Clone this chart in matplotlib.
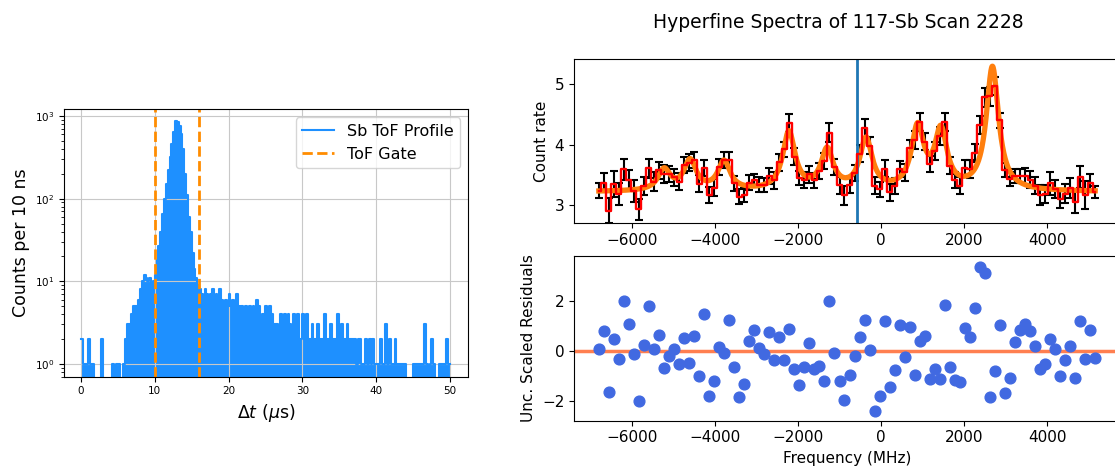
import numpy as np
import matplotlib
matplotlib.use('Agg')
import matplotlib.pyplot as plt

# ToF profile: max counts per 10 ns bin inside each 0.25 us slice, 0 - 50 us
tof_counts = [
    2, 1, 1, 1, 2, 1, 1, 0, 0, 0, 0, 2, 0, 0, 0, 0, 0, 1, 0, 1,
    1, 0, 0, 1, 2, 3, 3, 4, 5, 5, 5, 6, 8, 10, 12, 11, 10, 11, 9, 10,
    12, 18, 27, 40, 65, 100, 150, 220, 320, 460, 640, 870, 850, 760, 600, 400, 200, 110, 60, 40,
    22, 14, 11, 9, 8, 7, 6, 8, 7, 6, 7, 8, 6, 7, 6, 8, 6, 5, 6, 5,
    7, 5, 6, 5, 7, 5, 4, 5, 4, 5, 4, 5, 4, 5, 4, 6, 5, 3, 4, 3,
    5, 3, 5, 4, 3, 3, 3, 2, 4, 2, 4, 2, 4, 3, 2, 4, 2, 4, 2, 2,
    4, 2, 4, 2, 2, 3, 2, 2, 3, 2, 2, 2, 4, 2, 2, 3, 2, 2, 2, 4,
    2, 3, 2, 2, 3, 2, 2, 2, 2, 1, 2, 2, 1, 1, 2, 1, 2, 1, 2, 1,
    1, 1, 2, 1, 1, 3, 1, 2, 1, 1, 2, 1, 1, 1, 1, 1, 0, 0, 0, 0,
    1, 1, 1, 1, 1, 1, 3, 1, 0, 1, 2, 1, 0, 0, 1, 1, 1, 1, 2, 1,
]
tof_slice = 0.25  # us
gate = [10, 16]

# scan steps (MHz)
freq = [
    -6790, -6669, -6549, -6428, -6308, -6187, -6066, -5946, -5825, -5705,
    -5584, -5463, -5343, -5222, -5102, -4981, -4860, -4740, -4619, -4499,
    -4378, -4257, -4137, -4016, -3896, -3775, -3654, -3534, -3413, -3293,
    -3172, -3051, -2931, -2810, -2690, -2569, -2448, -2328, -2207, -2087,
    -1966, -1845, -1725, -1604, -1484, -1363, -1242, -1122, -1001, -881,
    -760, -639, -519, -398, -278, -157, -36, 84, 205, 325,
    446, 567, 687, 808, 928, 1049, 1170, 1290, 1411, 1531,
    1652, 1773, 1893, 2014, 2134, 2255, 2376, 2496, 2617, 2737,
    2858, 2979, 3099, 3220, 3340, 3461, 3582, 3702, 3823, 3943,
    4064, 4185, 4305, 4426, 4546, 4667, 4788, 4908, 5029, 5149,
]
rate = [
    3.24, 3.37, 2.91, 3.35, 3.18, 3.59, 3.42, 3.24, 2.93, 3.32,
    3.61, 3.39, 3.58, 3.52, 3.51, 3.46, 3.39, 3.66, 3.70, 3.74,
    3.35, 3.61, 3.17, 3.29, 3.63, 3.74, 3.75, 3.36, 3.14, 3.17,
    3.37, 3.41, 3.34, 3.33, 3.48, 3.41, 3.71, 3.92, 4.36, 3.80,
    3.45, 3.41, 3.51, 3.41, 3.56, 3.73, 4.20, 3.63, 3.33, 3.16,
    3.34, 3.53, 3.85, 4.28, 3.98, 3.32, 3.26, 3.60, 3.21, 3.32,
    3.60, 3.54, 3.94, 4.07, 4.37, 4.05, 3.68, 3.89, 4.14, 4.38,
    3.65, 3.41, 3.32, 3.61, 3.60, 3.86, 4.32, 4.78, 4.80, 4.97,
    4.40, 3.58, 3.43, 3.48, 3.48, 3.48, 3.42, 3.32, 3.17, 3.19,
    3.36, 3.27, 3.10, 3.19, 3.28, 3.05, 3.46, 3.17, 3.36, 3.21,
]
rate_err = [
    0.13, 0.16, 0.20, 0.22, 0.18, 0.17, 0.16, 0.18, 0.17, 0.15,
    0.16, 0.15, 0.14, 0.15, 0.13, 0.14, 0.14, 0.13, 0.14, 0.13,
    0.14, 0.13, 0.13, 0.14, 0.13, 0.13, 0.13, 0.12, 0.12, 0.12,
    0.12, 0.11, 0.12, 0.12, 0.13, 0.14, 0.14, 0.13, 0.15, 0.14,
    0.12, 0.13, 0.14, 0.12, 0.13, 0.13, 0.15, 0.14, 0.14, 0.15,
    0.14, 0.13, 0.14, 0.15, 0.14, 0.14, 0.13, 0.14, 0.14, 0.13,
    0.13, 0.14, 0.14, 0.15, 0.15, 0.14, 0.14, 0.15, 0.15, 0.15,
    0.14, 0.13, 0.14, 0.14, 0.15, 0.15, 0.15, 0.16, 0.16, 0.15,
    0.13, 0.12, 0.12, 0.11, 0.12, 0.13, 0.14, 0.14, 0.16, 0.15,
    0.19, 0.15, 0.15, 0.16, 0.17, 0.18, 0.18, 0.23, 0.15, 0.10,
]
# residuals scaled by uncertainty
resid = [
    0.07, 0.81, -1.63, 0.48, -0.33, 2.01, 1.08, -0.11, -1.99, 0.24,
    1.83, 0.09, 0.63, -0.68, -0.20, 0.07, -0.53, 0.53, -0.47, 0.60,
    -1.00, 1.51, -1.79, -1.20, 0.15, -0.07, 1.27, -0.65, -1.83, -1.31,
    0.41, 0.87, 0.11, -0.13, 0.75, -0.36, 0.55, -0.37, 0.91, -0.72,
    -1.35, -0.63, 0.31, -0.73, -0.59, -1.20, 2.00, -0.09, -1.20, -1.97,
    -0.95, -0.20, 0.55, 1.24, 0.04, -2.39, -1.81, 1.20, -1.43, -0.76,
    1.04, -0.23, 0.97, -0.97, 0.41, 0.60, -1.13, -0.73, -1.13, 1.87,
    -0.65, -1.16, -1.24, 0.95, 0.57, 1.73, 3.40, 3.15, -1.84, -0.79,
    1.07, -1.69, -1.07, 0.37, 0.87, 1.11, 0.80, 0.21, -0.72, -0.53,
    0.49, 0.08, -1.00, -0.36, 0.20, -1.07, 1.23, -0.32, 0.84, -0.29,
]

# fitted hyperfine components (Lorentzian)
peak_pos = [-5219, -4595, -3779, -2219, -1299, -363, 877, 1437, 2677]
peak_amp = [0.345, 0.49, 0.475, 0.96, 0.655, 0.835, 1.01, 0.95, 2.04]
peak_hwhm = 180
background = 3.22
centroid = -578


def hfs_model(f):
    f = np.asarray(f, dtype=float)[:, None]
    pos = np.array(peak_pos)
    amp = np.array(peak_amp)
    return background + np.sum(amp / (1 + ((f - pos) / peak_hwhm) ** 2), axis=1)


freq = np.array(freq)

fig = plt.figure(figsize=(11.15, 4.69), dpi=100)

# --- ToF profile ---
ax1 = fig.add_axes([0.0577, 0.1968, 0.3623, 0.5701])
counts = np.array(tof_counts, dtype=float)
edges = np.arange(len(counts) + 1) * tof_slice
shown = np.where(counts > 0, counts, 0.1)  # empty slices drop below the axis
shown = np.append(shown, shown[-1])
ax1.fill_between(edges, shown, 0.1, step='post', color='dodgerblue', lw=0)
ax1.step(edges, shown, where='post', color='dodgerblue', lw=1.5, label='Sb ToF Profile')
ax1.axvline(gate[0], color='darkorange', ls='--', lw=2, label='ToF Gate')
ax1.axvline(gate[1], color='darkorange', ls='--', lw=2)
ax1.set_yscale('log')
ax1.set_xlim(-2.26, 52.5)
ax1.set_ylim(0.70, 1205)
ax1.grid(True, color='#c8c8c8')
ax1.tick_params(labelsize=7.5)
ax1.set_xlabel(r'$\Delta t$ ($\mu$s)', fontsize=12.5)
ax1.set_ylabel('Counts per 10 ns', fontsize=12.5)
ax1.legend(loc='upper right', fontsize=11.5)

# --- spectrum ---
ax2 = fig.add_axes([0.5148, 0.5239, 0.4897, 0.3497])
ax2.errorbar(freq, rate, yerr=rate_err, color='red', ecolor='black', lw=1.7,
             elinewidth=1.5, capsize=3, capthick=1.5, drawstyle='steps-mid')
f_fine = np.linspace(freq.min(), freq.max(), 1500)
ax2.plot(f_fine, hfs_model(f_fine), color='tab:orange', lw=3.8)
ax2.axvline(centroid, color='tab:blue', lw=2)
ax2.set_xlim(-7387, 5746)
ax2.set_ylim(2.70, 5.41)
ax2.set_xticks([-6000, -4000, -2000, 0, 2000, 4000])
ax2.set_yticks([3, 4, 5])
ax2.tick_params(labelsize=11)
ax2.set_ylabel('Count rate', fontsize=11)

# --- residuals ---
ax3 = fig.add_axes([0.5148, 0.1030, 0.4897, 0.3512])
ax3.scatter(freq, resid, color='royalblue', s=60, zorder=3)
ax3.axhline(0, color='coral', lw=2.5, zorder=2)
ax3.set_xlim(-7387, 5746)
ax3.set_ylim(-2.8, 3.83)
ax3.set_xticks([-6000, -4000, -2000, 0, 2000, 4000])
ax3.set_yticks([-2, 0, 2])
ax3.tick_params(labelsize=11)
ax3.set_xlabel('Frequency (MHz)', fontsize=11)
ax3.set_ylabel('Unc. Scaled Residuals', fontsize=11)

fig.text(0.7516, 0.953, 'Hyperfine Spectra of 117-Sb Scan 2228', ha='center', va='center', fontsize=13.5)

fig.savefig('out.png', dpi=100)
